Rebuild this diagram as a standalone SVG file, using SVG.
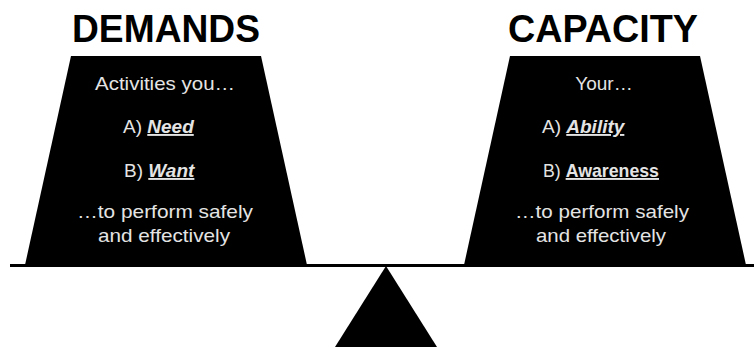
<svg xmlns="http://www.w3.org/2000/svg" width="754" height="347" viewBox="0 0 754 347">
<style>
.title{font-family:"Liberation Sans",Arial,sans-serif;font-weight:bold;font-size:39px;fill:#000;text-anchor:middle}
.body{font-family:"Liberation Sans",Arial,sans-serif;font-size:19px;fill:#e4e4e4}
.mid{text-anchor:middle}
.em{font-weight:bold;font-style:italic;text-decoration:underline}
.bu{font-weight:bold;text-decoration:underline}
.shape{fill:#000}
</style>
<rect width="754" height="347" fill="#fff"/>
<g id="demands">
<text class="title" x="166" y="42" textLength="188" lengthAdjust="spacingAndGlyphs">DEMANDS</text>
<polygon class="shape" points="71,56 261,56 307,265 25,265"/>
<text class="body mid" x="165" y="90" textLength="140" lengthAdjust="spacingAndGlyphs">Activities you…</text>
<text class="body" x="123" y="133">A) <tspan class="em">Need</tspan></text>
<text class="body" x="124" y="177">B) <tspan class="em">Want</tspan></text>
<text class="body mid" x="165" y="218" textLength="176" lengthAdjust="spacingAndGlyphs">…to perform safely</text>
<text class="body mid" x="164" y="242" textLength="132" lengthAdjust="spacingAndGlyphs">and effectively</text>
</g>
<g id="capacity">
<text class="title" x="603" y="42" textLength="190" lengthAdjust="spacingAndGlyphs">CAPACITY</text>
<polygon class="shape" points="510,56 700,56 746,265 464,265"/>
<text class="body mid" x="604" y="90">Your…</text>
<text class="body" x="542" y="133">A) <tspan class="em">Ability</tspan></text>
<text class="body" x="543" y="177" textLength="116" lengthAdjust="spacingAndGlyphs">B) <tspan class="bu">Awareness</tspan></text>
<text class="body mid" x="602" y="218" textLength="174" lengthAdjust="spacingAndGlyphs">…to perform safely</text>
<text class="body mid" x="601" y="242" textLength="130" lengthAdjust="spacingAndGlyphs">and effectively</text>
</g>
<g id="connectors">
<line x1="10" y1="265.5" x2="754" y2="265.5" stroke="#000" stroke-width="3"/>
</g>
<g id="fulcrum">
<polygon class="shape" points="386,266 437,347 335,347"/>
</g>
</svg>
